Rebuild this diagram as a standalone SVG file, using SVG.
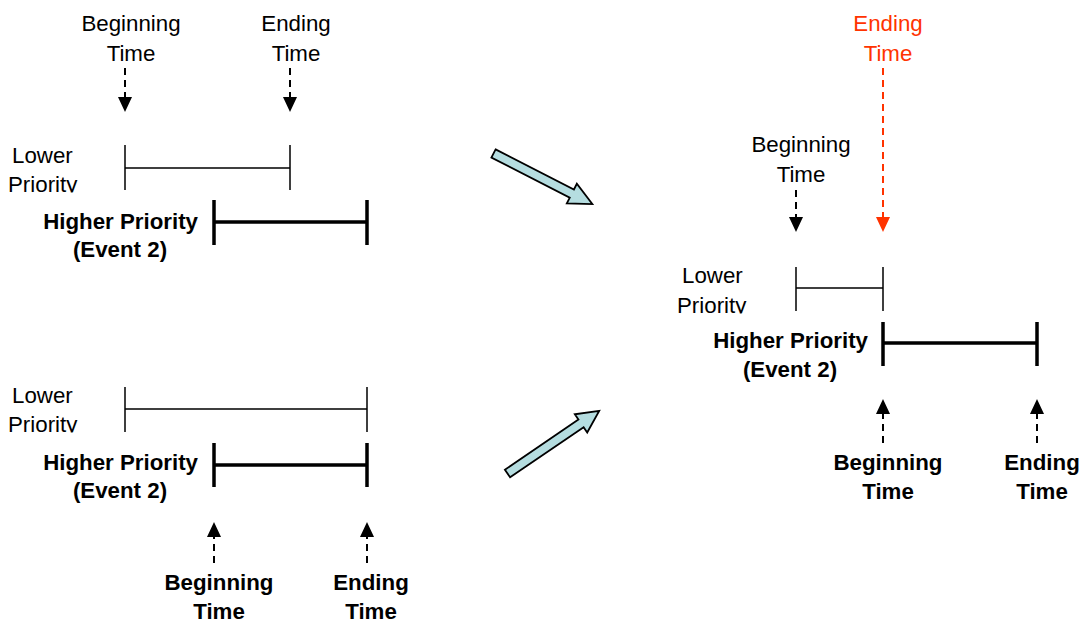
<svg xmlns="http://www.w3.org/2000/svg" width="1084" height="625" viewBox="0 0 1084 625">
<style>
text{font-family:"Liberation Sans",Arial,sans-serif;font-size:22.3px;fill:#000}
.b{font-weight:bold}
.c{text-anchor:middle}
.r{text-anchor:end}
.red{fill:#ff3300}
.thin{stroke:#000;stroke-width:1.5;fill:none}
.thick{stroke:#000;stroke-width:3.5;fill:none}
.dash{stroke:#000;stroke-width:2;stroke-dasharray:7 5;fill:none}
.dashred{stroke:#ff3300;stroke-width:2;stroke-dasharray:7 5;fill:none}
.big{fill:#b5dde0;stroke:#000;stroke-width:1.8;stroke-linejoin:miter}
</style>
<defs>
<clipPath id="clipTL"><rect x="0" y="130" width="120" height="62.5"/></clipPath>
<clipPath id="clipBL"><rect x="0" y="375" width="120" height="57.5"/></clipPath>
<clipPath id="clipR"><rect x="670" y="250" width="120" height="63.5"/></clipPath>
</defs>

<!-- Top-left panel -->
<g id="tl-labels">
<text class="c" x="131" y="31">Beginning</text>
<text class="c" x="131" y="61">Time</text>
<text class="c" x="296" y="31">Ending</text>
<text class="c" x="296" y="61">Time</text>
<g clip-path="url(#clipTL)">
<text x="12" y="163">Lower</text>
<text x="8" y="192">Priority</text>
</g>
<text class="b r" x="198" y="229">Higher Priority</text>
<text class="b c" x="120" y="257">(Event 2)</text>
</g>
<g id="tl-lower-bar">
<path class="thin" d="M125 145V190M290 145V190M125 168H290"/>
</g>
<g id="tl-higher-bar">
<path class="thick" d="M214 200V245M367 200V245M214 222H367"/>
</g>

<!-- Bottom-left panel -->
<g id="bl-labels">
<g clip-path="url(#clipBL)">
<text x="12" y="403">Lower</text>
<text x="8" y="432">Priority</text>
</g>
<text class="b r" x="198" y="470">Higher Priority</text>
<text class="b c" x="120" y="498">(Event 2)</text>
<text class="b c" x="219" y="590">Beginning</text>
<text class="b c" x="219" y="619">Time</text>
<text class="b c" x="371" y="590">Ending</text>
<text class="b c" x="371" y="619">Time</text>
</g>
<g id="bl-lower-bar">
<path class="thin" d="M125 387V432M367 387V432M125 409H367"/>
</g>
<g id="bl-higher-bar">
<path class="thick" d="M214 443V487M367 443V487M214 465H367"/>
</g>

<!-- Right panel -->
<g id="r-labels">
<text class="c red" x="888" y="31">Ending</text>
<text class="c red" x="888" y="61">Time</text>
<text class="c" x="801" y="152">Beginning</text>
<text class="c" x="801" y="182">Time</text>
<g clip-path="url(#clipR)">
<text x="682" y="283">Lower</text>
<text x="677" y="313">Priority</text>
</g>
<text class="b r" x="868" y="348">Higher Priority</text>
<text class="b c" x="790" y="377">(Event 2)</text>
<text class="b c" x="888" y="470">Beginning</text>
<text class="b c" x="888" y="499">Time</text>
<text class="b c" x="1042" y="470">Ending</text>
<text class="b c" x="1042" y="499">Time</text>
</g>
<g id="r-lower-bar">
<path class="thin" d="M796 267V311M883 267V311M796 288H883"/>
</g>
<g id="r-higher-bar">
<path class="thick" d="M883 322V366M1037 322V366M883 343H1037"/>
</g>

<!-- Connectors -->
<g id="connectors">
<path class="dash" d="M125 68V98"/>
<polygon points="118,97 132,97 125,112"/>
<path class="dash" d="M290 68V98"/>
<polygon points="283,97 297,97 290,112"/>

<path class="dash" d="M214 563V536"/>
<polygon points="207,537 221,537 214,522"/>
<path class="dash" d="M367 563V536"/>
<polygon points="360,537 374,537 367,522"/>

<path class="dashred" d="M883 68V218"/>
<polygon fill="#ff3300" points="876,217 890,217 883,232"/>
<path class="dash" d="M796 190V218"/>
<polygon points="789,217 803,217 796,232"/>

<path class="dash" d="M883 443V413"/>
<polygon points="876,414 890,414 883,399"/>
<path class="dash" d="M1037 443V413"/>
<polygon points="1030,414 1044,414 1037,399"/>

<polygon class="big" transform="translate(493.5 153.5) rotate(27.1)" points="0,-4.6 88,-4.6 88,-11 111,0 88,11 88,4.6 0,4.6"/>
<polygon class="big" transform="translate(507.5 473.5) rotate(-34.3)" points="0,-4.6 89,-4.6 89,-11 111,0 89,11 89,4.6 0,4.6"/>
</g>
</svg>
